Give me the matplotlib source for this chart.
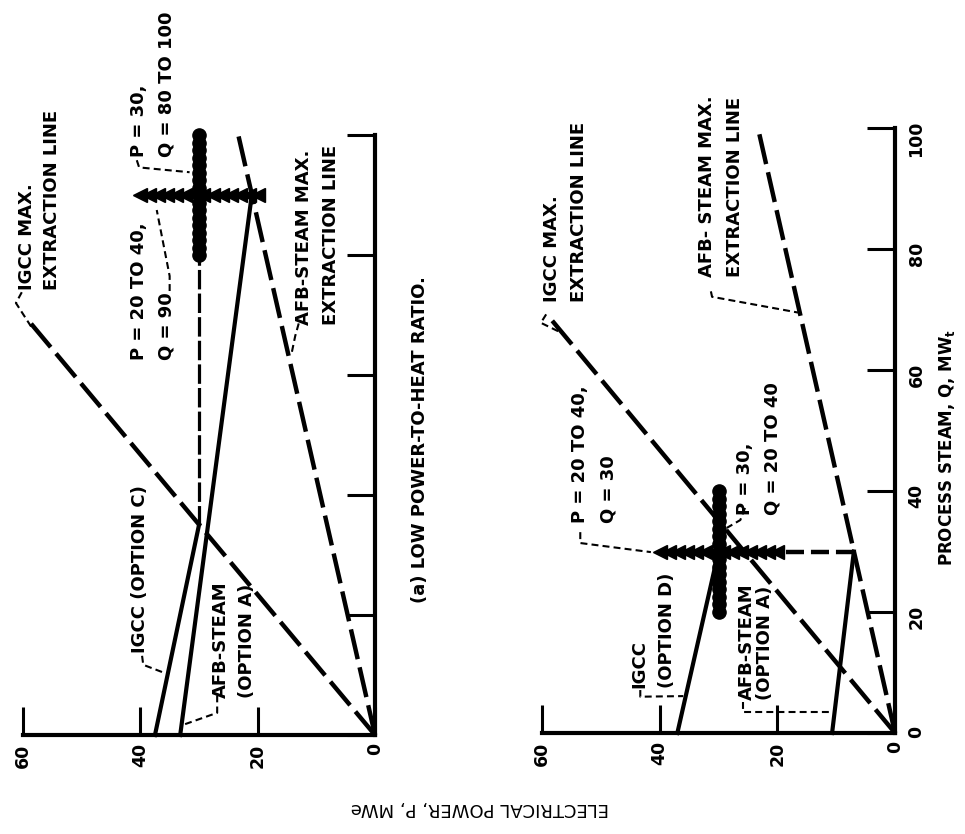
import numpy as np
import matplotlib
matplotlib.use("Agg")
import matplotlib.pyplot as plt

plt.rcParams['font.family'] = 'DejaVu Sans'
plt.rcParams['font.weight'] = 'bold'
plt.rcParams['lines.scale_dashes'] = False

# axis ticks
p_ticks = [0, 20, 40, 60]
q_ticks = [0, 20, 40, 60, 80, 100]

# max extraction lines (same on both panels), Q -> P
igcc_max_q = [0, 69]
igcc_max_p = [0, 59]
afb_max_q = [0, 100]
afb_max_p = [0, 23.3]

# (a) low power-to-heat ratio
igcc_c_q = [0, 35]
igcc_c_p = [37.5, 30]
igcc_c_ext_q = [35, 80]
igcc_c_ext_p = [30, 30]
afb_a_q_a = [0, 90]
afb_a_p_a = [33.2, 21]
dots_a_p = 30
dots_a_q = [80, 100]
arrows_a_q = 90
arrows_a_p = [20, 40]

# (b) second case
igcc_d_q = [0, 30]
igcc_d_p = [37, 30]
afb_a_q_b = [0, 30]
afb_a_p_b = [10.7, 7]
afb_ext_q_b = [30, 30]
afb_ext_p_b = [7, 20]
dots_b_p = 30
dots_b_q = [20, 40]
arrows_b_q = 30
arrows_b_p = [20, 40]


def spread(lo, hi, step):
    n = int(round((hi - lo) / step))
    return np.linspace(lo, hi, n + 1)


def setup(ax, q_labels):
    ax.set_xlim(60, 0)
    ax.set_ylim(0, 100)
    ax.patch.set_alpha(0)
    for s in ['top', 'left']:
        ax.spines[s].set_visible(False)
    for s in ['bottom', 'right']:
        ax.spines[s].set_linewidth(3)
    ax.set_xticks(p_ticks)
    ax.yaxis.tick_right()
    ax.set_yticks(q_ticks)
    ax.tick_params(axis='x', direction='in', length=20, width=2.2, pad=6,
                   labelsize=12.5, labelrotation=90)
    ax.tick_params(axis='y', direction='in', length=20, width=2.2, pad=9,
                   labelsize=12.5, labelrotation=90, labelright=q_labels)


def heavy(ax, q, p, dashes=(22, 6)):
    ax.plot(p, q, color='k', lw=3.2, dashes=dashes, clip_on=False)


def solid(ax, q, p):
    ax.plot(p, q, color='k', lw=3.0, clip_on=False)


def cross(ax, dp, dq, aq, ap):
    qs = spread(dq[0], dq[1], 1.25)
    ax.plot([dp, dp], dq, color='k', lw=6, clip_on=False)
    ax.plot(np.full(len(qs), dp), qs, 'o', color='k', ms=9.5, clip_on=False)
    ps = spread(ap[0], ap[1], 1.5)
    ax.plot(ap, [aq, aq], color='k', lw=3, clip_on=False)
    ax.plot(ps, np.full(len(ps), aq), '<', color='k', ms=10, clip_on=False)


def label(ax, p, q, s, ls=1.7):
    ax.text(p, q, s, rotation=90, rotation_mode='anchor', ha='left', va='top',
            fontsize=13, fontweight='bold', linespacing=ls, clip_on=False)


def leader(ax, pts):
    p = [a for a, b in pts]
    q = [b for a, b in pts]
    ax.plot(p, q, color='k', lw=1.5, dashes=(5, 3), clip_on=False)


fig = plt.figure(figsize=(9.65, 8.34), dpi=100)
ax_a = fig.add_axes([0.0238, 0.1187, 0.3648, 0.7194])
ax_b = fig.add_axes([0.5617, 0.1211, 0.3658, 0.7254])
setup(ax_a, False)
setup(ax_b, True)

# panel (a)
heavy(ax_a, igcc_max_q, igcc_max_p)
heavy(ax_a, afb_max_q, afb_max_p)
solid(ax_a, igcc_c_q, igcc_c_p)
solid(ax_a, afb_a_q_a, afb_a_p_a)
ax_a.plot(igcc_c_ext_p, igcc_c_ext_q, color='k', lw=2.3, dashes=(14, 3), clip_on=False)
cross(ax_a, dots_a_p, dots_a_q, arrows_a_q, arrows_a_p)

label(ax_a, 60.8, 74.2, "IGCC MAX.\nEXTRACTION LINE", 1.45)
label(ax_a, 41.8, 62.5, "P = 20 TO 40,\nQ = 90")
label(ax_a, 41.8, 96.3, "P = 30,\nQ = 80 TO 100")
label(ax_a, 13.6, 68.3, "AFB-STEAM MAX.\nEXTRACTION LINE", 1.6)
label(ax_a, 41.6, 13.7, "IGCC (OPTION C)")
label(ax_a, 27.8, 6.2, "AFB-STEAM\n(OPTION A)", 1.55)
ax_a.text(-7.7, 49.2, "(a) LOW POWER-TO-HEAT RATIO.", rotation=90, ha='center',
          va='center', fontsize=13, fontweight='bold', clip_on=False)

leader(ax_a, [(60.2, 73.8), (61.2, 72.0), (58.3, 67.6)])
leader(ax_a, [(35.0, 74.0), (35.0, 76.5), (37.2, 87.5)])
leader(ax_a, [(40.6, 95.8), (40.2, 94.6), (31.6, 93.8)])
leader(ax_a, [(13.0, 68.6), (13.6, 66.5), (14.3, 63.2)])
leader(ax_a, [(39.7, 13.2), (39.5, 11.7), (36.3, 10.5)])
leader(ax_a, [(26.9, 6.6), (26.9, 3.7), (32.4, 1.8)])

# panel (b)
heavy(ax_b, igcc_max_q, igcc_max_p)
heavy(ax_b, afb_max_q, afb_max_p)
solid(ax_b, igcc_d_q, igcc_d_p)
solid(ax_b, afb_a_q_b, afb_a_p_b)
heavy(ax_b, afb_ext_q_b, afb_ext_p_b, dashes=(13, 5))
cross(ax_b, dots_b_p, dots_b_q, arrows_b_q, arrows_b_p)

label(ax_b, 59.8, 71.2, "IGCC MAX.\nEXTRACTION LINE", 1.6)
label(ax_b, 33.5, 75.4, "AFB- STEAM MAX.\nEXTRACTION LINE", 1.7)
label(ax_b, 55.0, 34.7, "P = 20 TO 40,\nQ = 30")
label(ax_b, 27.0, 36.0, "P = 30,\nQ = 20 TO 40", 1.65)
label(ax_b, 45.0, 7.4, "IGCC\n(OPTION D)")
label(ax_b, 26.7, 5.5, "AFB-STEAM\n(OPTION A)", 1.0)

leader(ax_b, [(59.3, 69.2), (60.2, 67.8), (56.6, 66.1)])
leader(ax_b, [(31.3, 73.0), (31.1, 72.1), (16.5, 69.5)])
leader(ax_b, [(53.5, 33.2), (53.5, 31.4), (41.5, 29.9)])
leader(ax_b, [(25.5, 37.2), (26.3, 35.2), (28.6, 33.9)])
leader(ax_b, [(43.3, 7.1), (43.3, 6.0), (36.0, 6.1)])
leader(ax_b, [(25.8, 5.1), (25.8, 3.5), (10.5, 3.5)])

fig.text(0.9813, 0.464, r"PROCESS STEAM, Q, MW$_\mathbf{t}$", rotation=90,
         ha='center', va='center', fontsize=12, fontweight='bold')
fig.text(0.4974, 0.0312, "ELECTRICAL POWER, P, MWe", rotation=180,
         ha='center', va='center', fontsize=13, fontweight='normal')

fig.savefig("out.png", dpi=100, facecolor='white')
